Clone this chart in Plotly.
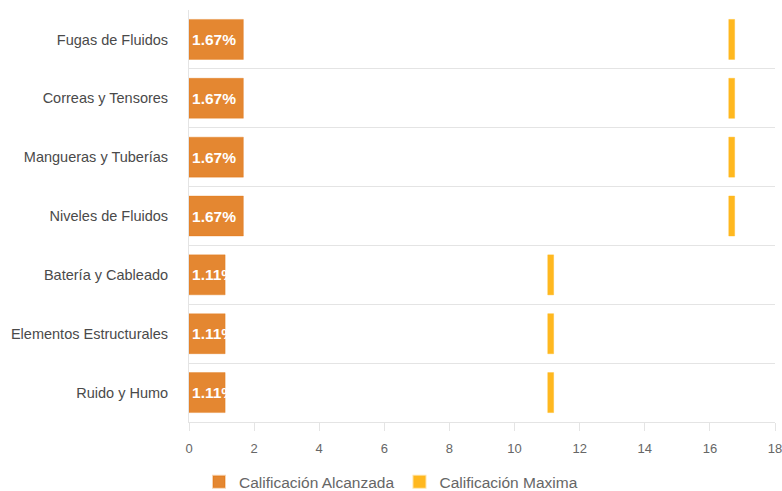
import plotly.graph_objects as go

categories = ["Fugas de Fluidos", "Correas y Tensores", "Mangueras y Tuberías",
              "Niveles de Fluidos", "Batería y Cableado", "Elementos Estructurales",
              "Ruido y Humo"]
alcanzada = [1.67, 1.67, 1.67, 1.67, 1.11, 1.11, 1.11]
maxima = [16.67, 16.67, 16.67, 16.67, 11.11, 11.11, 11.11]
labels = [f"{v:.2f}%" for v in alcanzada]
x_ticks = [0, 2, 4, 6, 8, 10, 12, 14, 16, 18]

marker_w = 0.18

fig = go.Figure()
fig.add_trace(go.Bar(
    y=categories, x=alcanzada, orientation="h", name="Calificación Alcanzada",
    marker=dict(color="rgba(224,118,20,0.88)", line=dict(color="rgba(224,108,0,0.3)", width=1)),
    width=0.68, text=labels, textposition="inside", insidetextanchor="start",
    constraintext="none", textangle=0,
    textfont=dict(color="white", size=15.5, family="Liberation Sans, Arial", weight="bold"),
    hoverinfo="skip",
))
fig.add_trace(go.Bar(
    y=categories, x=[marker_w] * len(maxima), base=[v - marker_w / 2 for v in maxima],
    orientation="h", name="Calificación Maxima",
    marker=dict(color="#FFB81F", line=dict(color="rgba(255,184,31,0.4)", width=1)),
    width=0.68, hoverinfo="skip",
))

fig.update_layout(
    width=782, height=491,
    margin=dict(l=189, r=7, t=10, b=69, autoexpand=False),
    barmode="overlay",
    plot_bgcolor="white", paper_bgcolor="white",
    font=dict(family="Liberation Sans, Arial", color="#666"),
    showlegend=True,
    legend=dict(orientation="h", xref="container", yref="container",
                x=0.5, xanchor="center", y=0.018, yanchor="middle",
                font=dict(size=15.5, color="#666"), itemsizing="constant"),
)
fig.update_xaxes(range=[0, 18], tickvals=x_ticks, ticks="outside", ticklen=8,
                 tickcolor="#e4e4e4", showline=True, linecolor="#e4e4e4", linewidth=1,
                 showgrid=False, zeroline=False, automargin=False,
                 ticklabeloverflow="allow", ticklabelstandoff=6,
                 tickfont=dict(size=13, color="#666"))
fig.update_yaxes(autorange="reversed", tickson="boundaries", showgrid=True,
                 gridcolor="#e4e4e4", gridwidth=1, showline=True, linecolor="#e4e4e4",
                 ticks="", automargin=False, ticklabelstandoff=17,
                 tickfont=dict(size=14.5, color="#4a4a4a"))

fig.write_html("out.html")
